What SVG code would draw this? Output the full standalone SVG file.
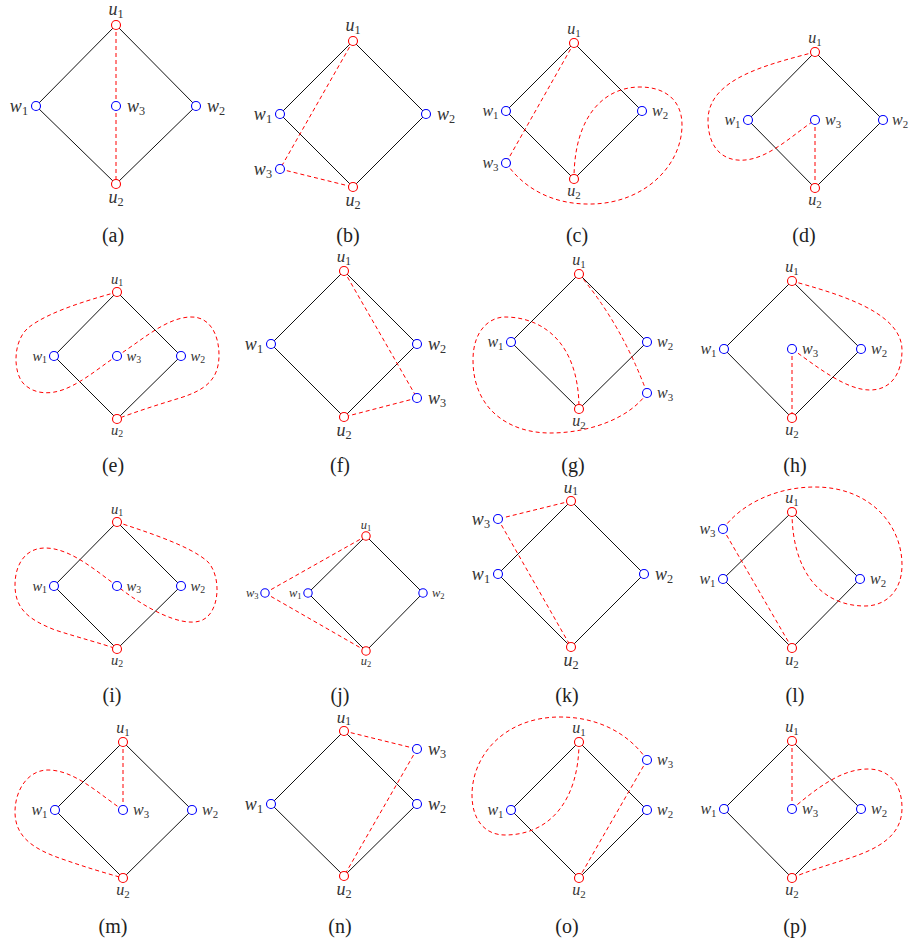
<svg xmlns="http://www.w3.org/2000/svg" width="909" height="944" viewBox="0 0 909 944">
<style>
.e{stroke:#111;stroke-width:1;fill:none}
.d{stroke:#f00;stroke-width:1;fill:none;stroke-dasharray:4 3}
.r{stroke:#f00;fill:#fff;stroke-width:1.1}
.b{stroke:#00f;fill:#fff;stroke-width:1.1}
.l{font-family:"Liberation Serif","DejaVu Serif",serif;font-style:italic;fill:#333}
.s{font-style:normal;font-size:68%}
.cap{font-family:"Liberation Serif","DejaVu Serif",serif;font-size:20px;text-anchor:middle;fill:#222}
.m{text-anchor:middle}.n{text-anchor:end}
.f18{font-size:18px}.f17{font-size:17px}.f16{font-size:16px}.f14{font-size:14.5px}.f12{font-size:12.5px}
</style>
<rect width="909" height="944" fill="#fff"/>

<!-- (a) -->
<g id="panel-a">
<g id="a-connectors">
<path class="e" d="M116,25L36,106"/><path class="e" d="M36,106L116,184"/><path class="e" d="M116,184L196,106"/><path class="e" d="M196,106L116,25"/>
<path class="d" d="M116,25L116,106"/><path class="d" d="M116,106L116,184"/>
</g>
<g id="a-u1"><circle class="r" cx="116" cy="25" r="4.5"/><text class="l f18 m" x="116" y="15">u<tspan class="s" dy=".25em">1</tspan></text></g>
<g id="a-u2"><circle class="r" cx="116" cy="184" r="4.5"/><text class="l f18 m" x="116" y="203">u<tspan class="s" dy=".25em">2</tspan></text></g>
<g id="a-w1"><circle class="b" cx="36" cy="106" r="4.5"/><text class="l f18 n" x="28" y="111.5">w<tspan class="s" dy=".25em">1</tspan></text></g>
<g id="a-w3"><circle class="b" cx="116" cy="106" r="4.5"/><text class="l f18" x="127" y="111.5">w<tspan class="s" dy=".25em">3</tspan></text></g>
<g id="a-w2"><circle class="b" cx="196" cy="106" r="4.5"/><text class="l f18" x="207" y="111.5">w<tspan class="s" dy=".25em">2</tspan></text></g>
<text class="cap" x="113" y="242">(a)</text>
</g>

<!-- (b) -->
<g id="panel-b">
<g id="b-connectors">
<path class="e" d="M353,41L280,114"/><path class="e" d="M280,114L353,187"/><path class="e" d="M353,187L426,114"/><path class="e" d="M426,114L353,41"/>
<path class="d" d="M353,41L280,169"/><path class="d" d="M280,169L353,187"/>
</g>
<g id="b-u1"><circle class="r" cx="353" cy="41" r="4.5"/><text class="l f18 m" x="353" y="31">u<tspan class="s" dy=".25em">1</tspan></text></g>
<g id="b-u2"><circle class="r" cx="353" cy="187" r="4.5"/><text class="l f18 m" x="353" y="206">u<tspan class="s" dy=".25em">2</tspan></text></g>
<g id="b-w1"><circle class="b" cx="280" cy="114" r="4.5"/><text class="l f18 n" x="272" y="119.5">w<tspan class="s" dy=".25em">1</tspan></text></g>
<g id="b-w2"><circle class="b" cx="426" cy="114" r="4.5"/><text class="l f18" x="437" y="119.5">w<tspan class="s" dy=".25em">2</tspan></text></g>
<g id="b-w3"><circle class="b" cx="280" cy="169" r="4.5"/><text class="l f18 n" x="272" y="174.5">w<tspan class="s" dy=".25em">3</tspan></text></g>
<text class="cap" x="348" y="242">(b)</text>
</g>

<!-- (c) -->
<g id="panel-c">
<g id="c-connectors">
<path class="e" d="M574,43L506,111"/><path class="e" d="M506,111L574,179"/><path class="e" d="M574,179L642,111"/><path class="e" d="M642,111L574,43"/>
<path class="d" d="M574,43L506,163"/>
<path class="d" d="M506,163C525,190 555,205 592,204C645,203 682,165 682,125C682,100 665,87 640,87C605,87 574,115 574,179"/>
</g>
<g id="c-u1"><circle class="r" cx="574" cy="43" r="4.5"/><text class="l f16 m" x="574" y="34">u<tspan class="s" dy=".25em">1</tspan></text></g>
<g id="c-u2"><circle class="r" cx="574" cy="179" r="4.5"/><text class="l f16 m" x="574" y="196">u<tspan class="s" dy=".25em">2</tspan></text></g>
<g id="c-w1"><circle class="b" cx="506" cy="111" r="4.5"/><text class="l f16 n" x="498.5" y="116">w<tspan class="s" dy=".25em">1</tspan></text></g>
<g id="c-w2"><circle class="b" cx="642" cy="111" r="4.5"/><text class="l f16" x="652" y="116">w<tspan class="s" dy=".25em">2</tspan></text></g>
<g id="c-w3"><circle class="b" cx="506" cy="163" r="4.5"/><text class="l f16 n" x="498.5" y="168">w<tspan class="s" dy=".25em">3</tspan></text></g>
<text class="cap" x="577" y="242">(c)</text>
</g>

<!-- (d) -->
<g id="panel-d">
<g id="d-connectors">
<path class="e" d="M815,52L748,120"/><path class="e" d="M748,120L815,188"/><path class="e" d="M815,188L883,120"/><path class="e" d="M883,120L815,52"/>
<path class="d" d="M815,120L815,188"/>
<path class="d" d="M815,52C770,64 708,78 708,120C708,150 725,162 745,160C770,158 795,133 815,120"/>
</g>
<g id="d-u1"><circle class="r" cx="815" cy="52" r="4.5"/><text class="l f16 m" x="815" y="43">u<tspan class="s" dy=".25em">1</tspan></text></g>
<g id="d-u2"><circle class="r" cx="815" cy="188" r="4.5"/><text class="l f16 m" x="815" y="205">u<tspan class="s" dy=".25em">2</tspan></text></g>
<g id="d-w1"><circle class="b" cx="748" cy="120" r="4.5"/><text class="l f16 n" x="740.5" y="125">w<tspan class="s" dy=".25em">1</tspan></text></g>
<g id="d-w3"><circle class="b" cx="815" cy="120" r="4.5"/><text class="l f16" x="825" y="125">w<tspan class="s" dy=".25em">3</tspan></text></g>
<g id="d-w2"><circle class="b" cx="883" cy="120" r="4.5"/><text class="l f16" x="892" y="125">w<tspan class="s" dy=".25em">2</tspan></text></g>
<text class="cap" x="804" y="242">(d)</text>
</g>

<!-- (e) -->
<g id="panel-e">
<g id="e-connectors">
<path class="e" d="M117,292L54,356"/><path class="e" d="M54,356L117,419"/><path class="e" d="M117,419L181,356"/><path class="e" d="M181,356L117,292"/>
<path class="d" d="M117,292C100,297 50,310 28,328C12,342 13,375 25,385C35,394 50,395 65,389C85,381 105,363 117,356"/>
<path class="d" d="M117,356C140,342 165,318 190,317C210,316 219,335 219,355C219,380 205,390 180,398C160,404 135,412 117,419"/>
</g>
<g id="e-u1"><circle class="r" cx="117" cy="292" r="4.5"/><text class="l f14 m" x="117" y="284">u<tspan class="s" dy=".25em">1</tspan></text></g>
<g id="e-u2"><circle class="r" cx="117" cy="419" r="4.5"/><text class="l f14 m" x="117" y="434.5">u<tspan class="s" dy=".25em">2</tspan></text></g>
<g id="e-w1"><circle class="b" cx="54" cy="356" r="4.5"/><text class="l f14 n" x="47" y="360.5">w<tspan class="s" dy=".25em">1</tspan></text></g>
<g id="e-w3"><circle class="b" cx="117" cy="356" r="4.5"/><text class="l f14" x="126.5" y="360.5">w<tspan class="s" dy=".25em">3</tspan></text></g>
<g id="e-w2"><circle class="b" cx="181" cy="356" r="4.5"/><text class="l f14" x="190.5" y="360.5">w<tspan class="s" dy=".25em">2</tspan></text></g>
<text class="cap" x="113" y="472">(e)</text>
</g>

<!-- (f) -->
<g id="panel-f">
<g id="f-connectors">
<path class="e" d="M344,271L271,344"/><path class="e" d="M271,344L344,417"/><path class="e" d="M344,417L417,344"/><path class="e" d="M417,344L344,271"/>
<path class="d" d="M344,271L417,398"/><path class="d" d="M417,398L344,417"/>
</g>
<g id="f-u1"><circle class="r" cx="344" cy="271" r="4.5"/><text class="l f17 m" x="344" y="262">u<tspan class="s" dy=".25em">1</tspan></text></g>
<g id="f-u2"><circle class="r" cx="344" cy="417" r="4.5"/><text class="l f18 m" x="344" y="436">u<tspan class="s" dy=".25em">2</tspan></text></g>
<g id="f-w1"><circle class="b" cx="271" cy="344" r="4.5"/><text class="l f18 n" x="263" y="349.5">w<tspan class="s" dy=".25em">1</tspan></text></g>
<g id="f-w2"><circle class="b" cx="417" cy="344" r="4.5"/><text class="l f18" x="428" y="349.5">w<tspan class="s" dy=".25em">2</tspan></text></g>
<g id="f-w3"><circle class="b" cx="417" cy="398" r="4.5"/><text class="l f18" x="428" y="403.5">w<tspan class="s" dy=".25em">3</tspan></text></g>
<text class="cap" x="340" y="472">(f)</text>
</g>

<!-- (g) -->
<g id="panel-g">
<g id="g-connectors">
<path class="e" d="M579,274L511,342"/><path class="e" d="M511,342L579,409"/><path class="e" d="M579,409L647,342"/><path class="e" d="M647,342L579,274"/>
<path class="d" d="M579,274Q622,325 647,393"/>
<path class="d" d="M647,393C630,418 590,433 550,433C510,433 473,410 473,360C473,330 490,317 505,317C540,317 579,340 579,409"/>
</g>
<g id="g-u1"><circle class="r" cx="579" cy="274" r="4.5"/><text class="l f16 m" x="579" y="265">u<tspan class="s" dy=".25em">1</tspan></text></g>
<g id="g-u2"><circle class="r" cx="579" cy="409" r="4.5"/><text class="l f16 m" x="579" y="426">u<tspan class="s" dy=".25em">2</tspan></text></g>
<g id="g-w1"><circle class="b" cx="511" cy="342" r="4.5"/><text class="l f16 n" x="503.5" y="347">w<tspan class="s" dy=".25em">1</tspan></text></g>
<g id="g-w2"><circle class="b" cx="647" cy="342" r="4.5"/><text class="l f16" x="657" y="347">w<tspan class="s" dy=".25em">2</tspan></text></g>
<g id="g-w3"><circle class="b" cx="647" cy="393" r="4.5"/><text class="l f16" x="657" y="398">w<tspan class="s" dy=".25em">3</tspan></text></g>
<text class="cap" x="573" y="472">(g)</text>
</g>

<!-- (h) -->
<g id="panel-h">
<g id="h-connectors">
<path class="e" d="M792,281L724,349"/><path class="e" d="M724,349L792,418"/><path class="e" d="M792,418L861,349"/><path class="e" d="M861,349L792,281"/>
<path class="d" d="M792,349L792,418"/>
<path class="d" d="M792,281C830,292 902,310 902,350C902,375 890,390 870,390C845,390 815,365 792,349"/>
</g>
<g id="h-u1"><circle class="r" cx="792" cy="281" r="4.5"/><text class="l f16 m" x="792" y="272">u<tspan class="s" dy=".25em">1</tspan></text></g>
<g id="h-u2"><circle class="r" cx="792" cy="418" r="4.5"/><text class="l f16 m" x="792" y="435">u<tspan class="s" dy=".25em">2</tspan></text></g>
<g id="h-w1"><circle class="b" cx="724" cy="349" r="4.5"/><text class="l f16 n" x="716.5" y="354">w<tspan class="s" dy=".25em">1</tspan></text></g>
<g id="h-w3"><circle class="b" cx="792" cy="349" r="4.5"/><text class="l f16" x="802" y="354">w<tspan class="s" dy=".25em">3</tspan></text></g>
<g id="h-w2"><circle class="b" cx="861" cy="349" r="4.5"/><text class="l f16" x="871" y="354">w<tspan class="s" dy=".25em">2</tspan></text></g>
<text class="cap" x="795" y="472">(h)</text>
</g>

<!-- (i) -->
<g id="panel-i">
<g id="i-connectors">
<path class="e" d="M117,522L54,586"/><path class="e" d="M54,586L117,649"/><path class="e" d="M117,649L181,586"/><path class="e" d="M181,586L117,522"/>
<path class="d" d="M117,522C140,530 190,545 208,562C222,577 220,615 200,621C180,627 145,608 117,586"/>
<path class="d" d="M117,586C95,570 70,548 45,548C25,548 15,565 15,585C15,610 30,620 55,630C80,638 100,643 117,649"/>
</g>
<g id="i-u1"><circle class="r" cx="117" cy="522" r="4.5"/><text class="l f14 m" x="117" y="514">u<tspan class="s" dy=".25em">1</tspan></text></g>
<g id="i-u2"><circle class="r" cx="117" cy="649" r="4.5"/><text class="l f14 m" x="117" y="664.5">u<tspan class="s" dy=".25em">2</tspan></text></g>
<g id="i-w1"><circle class="b" cx="54" cy="586" r="4.5"/><text class="l f14 n" x="47" y="590.5">w<tspan class="s" dy=".25em">1</tspan></text></g>
<g id="i-w3"><circle class="b" cx="117" cy="586" r="4.5"/><text class="l f14" x="126.5" y="590.5">w<tspan class="s" dy=".25em">3</tspan></text></g>
<g id="i-w2"><circle class="b" cx="181" cy="586" r="4.5"/><text class="l f14" x="190.5" y="590.5">w<tspan class="s" dy=".25em">2</tspan></text></g>
<text class="cap" x="112" y="702">(i)</text>
</g>

<!-- (j) -->
<g id="panel-j">
<g id="j-connectors">
<path class="e" d="M366,536L308,593"/><path class="e" d="M308,593L366,651"/><path class="e" d="M366,651L423,593"/><path class="e" d="M423,593L366,536"/>
<path class="d" d="M366,536L265,593"/><path class="d" d="M265,593L366,651"/>
</g>
<g id="j-u1"><circle class="r" cx="366" cy="536" r="4.2"/><text class="l f12 m" x="366" y="529">u<tspan class="s" dy=".25em">1</tspan></text></g>
<g id="j-u2"><circle class="r" cx="366" cy="651" r="4.2"/><text class="l f12 m" x="366" y="664.5">u<tspan class="s" dy=".25em">2</tspan></text></g>
<g id="j-w1"><circle class="b" cx="308" cy="593" r="4.2"/><text class="l f12 n" x="301.5" y="597">w<tspan class="s" dy=".25em">1</tspan></text></g>
<g id="j-w2"><circle class="b" cx="423" cy="593" r="4.2"/><text class="l f12" x="432" y="597">w<tspan class="s" dy=".25em">2</tspan></text></g>
<g id="j-w3"><circle class="b" cx="265" cy="593" r="4.2"/><text class="l f12 n" x="258.5" y="597">w<tspan class="s" dy=".25em">3</tspan></text></g>
<text class="cap" x="340" y="702">(j)</text>
</g>

<!-- (k) -->
<g id="panel-k">
<g id="k-connectors">
<path class="e" d="M571,501L498,574"/><path class="e" d="M498,574L571,647"/><path class="e" d="M571,647L644,574"/><path class="e" d="M644,574L571,501"/>
<path class="d" d="M571,501L498,519"/><path class="d" d="M498,519L571,647"/>
</g>
<g id="k-u1"><circle class="r" cx="571" cy="501" r="4.5"/><text class="l f17 m" x="571" y="492.5">u<tspan class="s" dy=".25em">1</tspan></text></g>
<g id="k-u2"><circle class="r" cx="571" cy="647" r="4.5"/><text class="l f18 m" x="571" y="666">u<tspan class="s" dy=".25em">2</tspan></text></g>
<g id="k-w3"><circle class="b" cx="498" cy="519" r="4.5"/><text class="l f18 n" x="490" y="524.5">w<tspan class="s" dy=".25em">3</tspan></text></g>
<g id="k-w1"><circle class="b" cx="498" cy="574" r="4.5"/><text class="l f18 n" x="490" y="579.5">w<tspan class="s" dy=".25em">1</tspan></text></g>
<g id="k-w2"><circle class="b" cx="644" cy="574" r="4.5"/><text class="l f18" x="655" y="579.5">w<tspan class="s" dy=".25em">2</tspan></text></g>
<text class="cap" x="567" y="702">(k)</text>
</g>

<!-- (l) -->
<g id="panel-l">
<g id="l-connectors">
<path class="e" d="M792,512L723,579"/><path class="e" d="M723,579L792,648"/><path class="e" d="M792,648L860,579"/><path class="e" d="M860,579L792,512"/>
<path class="d" d="M723,529L792,648"/>
<path class="d" d="M723,529C740,505 775,487 815,487C870,487 902,525 902,565C902,592 885,606 865,606C820,606 792,570 792,512"/>
</g>
<g id="l-u1"><circle class="r" cx="792" cy="512" r="4.5"/><text class="l f16 m" x="792" y="503">u<tspan class="s" dy=".25em">1</tspan></text></g>
<g id="l-u2"><circle class="r" cx="792" cy="648" r="4.5"/><text class="l f16 m" x="792" y="665">u<tspan class="s" dy=".25em">2</tspan></text></g>
<g id="l-w3"><circle class="b" cx="723" cy="529" r="4.5"/><text class="l f16 n" x="715.5" y="534">w<tspan class="s" dy=".25em">3</tspan></text></g>
<g id="l-w1"><circle class="b" cx="723" cy="579" r="4.5"/><text class="l f16 n" x="715.5" y="584">w<tspan class="s" dy=".25em">1</tspan></text></g>
<g id="l-w2"><circle class="b" cx="860" cy="579" r="4.5"/><text class="l f16" x="870" y="584">w<tspan class="s" dy=".25em">2</tspan></text></g>
<text class="cap" x="795" y="702">(l)</text>
</g>

<!-- (m) -->
<g id="panel-m">
<g id="m-connectors">
<path class="e" d="M123,742L55,810"/><path class="e" d="M55,810L123,878"/><path class="e" d="M123,878L192,810"/><path class="e" d="M192,810L123,742"/>
<path class="d" d="M123,742L123,810"/>
<path class="d" d="M123,810C100,795 75,770 48,770C28,770 15,790 15,812C15,838 35,850 65,860C85,867 105,873 123,878"/>
</g>
<g id="m-u1"><circle class="r" cx="123" cy="742" r="4.5"/><text class="l f16 m" x="123" y="733">u<tspan class="s" dy=".25em">1</tspan></text></g>
<g id="m-u2"><circle class="r" cx="123" cy="878" r="4.5"/><text class="l f16 m" x="123" y="895">u<tspan class="s" dy=".25em">2</tspan></text></g>
<g id="m-w1"><circle class="b" cx="55" cy="810" r="4.5"/><text class="l f16 n" x="47.5" y="815">w<tspan class="s" dy=".25em">1</tspan></text></g>
<g id="m-w3"><circle class="b" cx="123" cy="810" r="4.5"/><text class="l f16" x="133" y="815">w<tspan class="s" dy=".25em">3</tspan></text></g>
<g id="m-w2"><circle class="b" cx="192" cy="810" r="4.5"/><text class="l f16" x="202" y="815">w<tspan class="s" dy=".25em">2</tspan></text></g>
<text class="cap" x="113" y="933">(m)</text>
</g>

<!-- (n) -->
<g id="panel-n">
<g id="n-connectors">
<path class="e" d="M344,731L271,804"/><path class="e" d="M271,804L344,876"/><path class="e" d="M344,876L417,804"/><path class="e" d="M417,804L344,731"/>
<path class="d" d="M344,731L417,749"/><path class="d" d="M417,749L344,876"/>
</g>
<g id="n-u1"><circle class="r" cx="344" cy="731" r="4.5"/><text class="l f17 m" x="344" y="722.5">u<tspan class="s" dy=".25em">1</tspan></text></g>
<g id="n-u2"><circle class="r" cx="344" cy="876" r="4.5"/><text class="l f18 m" x="344" y="895">u<tspan class="s" dy=".25em">2</tspan></text></g>
<g id="n-w1"><circle class="b" cx="271" cy="804" r="4.5"/><text class="l f18 n" x="263" y="809.5">w<tspan class="s" dy=".25em">1</tspan></text></g>
<g id="n-w2"><circle class="b" cx="417" cy="804" r="4.5"/><text class="l f18" x="428" y="809.5">w<tspan class="s" dy=".25em">2</tspan></text></g>
<g id="n-w3"><circle class="b" cx="417" cy="749" r="4.5"/><text class="l f18" x="428" y="754.5">w<tspan class="s" dy=".25em">3</tspan></text></g>
<text class="cap" x="340" y="933">(n)</text>
</g>

<!-- (o) -->
<g id="panel-o">
<g id="o-connectors">
<path class="e" d="M579,742L511,810"/><path class="e" d="M511,810L579,878"/><path class="e" d="M579,878L647,810"/><path class="e" d="M647,810L579,742"/>
<path class="d" d="M647,760L579,878"/>
<path class="d" d="M647,760C630,735 600,717 560,717C505,717 472,755 472,795C472,820 485,835 505,835C550,835 579,800 579,742"/>
</g>
<g id="o-u1"><circle class="r" cx="579" cy="742" r="4.5"/><text class="l f16 m" x="579" y="733">u<tspan class="s" dy=".25em">1</tspan></text></g>
<g id="o-u2"><circle class="r" cx="579" cy="878" r="4.5"/><text class="l f16 m" x="579" y="895">u<tspan class="s" dy=".25em">2</tspan></text></g>
<g id="o-w3"><circle class="b" cx="647" cy="760" r="4.5"/><text class="l f16" x="657" y="765">w<tspan class="s" dy=".25em">3</tspan></text></g>
<g id="o-w1"><circle class="b" cx="511" cy="810" r="4.5"/><text class="l f16 n" x="503.5" y="815">w<tspan class="s" dy=".25em">1</tspan></text></g>
<g id="o-w2"><circle class="b" cx="647" cy="810" r="4.5"/><text class="l f16" x="657" y="815">w<tspan class="s" dy=".25em">2</tspan></text></g>
<text class="cap" x="567" y="933">(o)</text>
</g>

<!-- (p) -->
<g id="panel-p">
<g id="p-connectors">
<path class="e" d="M792,741L724,809"/><path class="e" d="M724,809L792,878"/><path class="e" d="M792,878L861,809"/><path class="e" d="M861,809L792,741"/>
<path class="d" d="M792,741L792,809"/>
<path class="d" d="M792,809C815,790 840,769 868,769C890,769 902,785 902,808C902,835 880,848 850,858C825,866 805,872 792,878"/>
</g>
<g id="p-u1"><circle class="r" cx="792" cy="741" r="4.5"/><text class="l f16 m" x="792" y="732">u<tspan class="s" dy=".25em">1</tspan></text></g>
<g id="p-u2"><circle class="r" cx="792" cy="878" r="4.5"/><text class="l f16 m" x="792" y="895">u<tspan class="s" dy=".25em">2</tspan></text></g>
<g id="p-w1"><circle class="b" cx="724" cy="809" r="4.5"/><text class="l f16 n" x="716.5" y="814">w<tspan class="s" dy=".25em">1</tspan></text></g>
<g id="p-w3"><circle class="b" cx="792" cy="809" r="4.5"/><text class="l f16" x="802" y="814">w<tspan class="s" dy=".25em">3</tspan></text></g>
<g id="p-w2"><circle class="b" cx="861" cy="809" r="4.5"/><text class="l f16" x="871" y="814">w<tspan class="s" dy=".25em">2</tspan></text></g>
<text class="cap" x="795" y="933">(p)</text>
</g>
</svg>
